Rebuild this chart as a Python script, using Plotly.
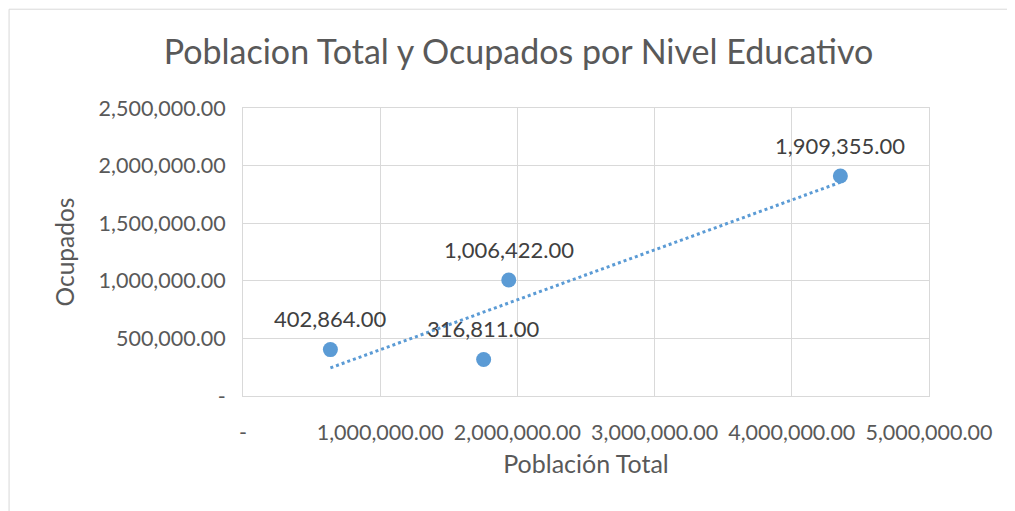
import numpy as np
import plotly.graph_objects as go

# datos
poblacion_total = [637000, 1754000, 1937000, 4354000]
ocupados = [402864, 316811, 1006422, 1909355]
etiquetas = ["402,864.00", "316,811.00", "1,006,422.00", "1,909,355.00"]

x_ticks = [0, 1000000, 2000000, 3000000, 4000000, 5000000]
x_ticktext = ["-", "1,000,000.00", "2,000,000.00", "3,000,000.00", "4,000,000.00", "5,000,000.00"]
y_ticks = [0, 500000, 1000000, 1500000, 2000000, 2500000]
y_ticktext = ["-", "500,000.00", "1,000,000.00", "1,500,000.00", "2,000,000.00", "2,500,000.00"]

AZUL = "#5b9bd5"
GRIS_TXT = "#595959"
GRIS_LIN = "#d9d9d9"
FUENTE = "Lato"

# linea de tendencia lineal (como en Excel)
pend, inter = np.polyfit(poblacion_total, ocupados, 1)
xt = np.array([min(poblacion_total), max(poblacion_total)])
yt = pend * xt + inter

fig = go.Figure()
fig.add_trace(
    go.Scatter(
        x=xt.tolist(),
        y=yt.tolist(),
        mode="lines",
        line=dict(color=AZUL, width=3, dash="dot"),
        hoverinfo="skip",
        showlegend=False,
    )
)
fig.add_trace(
    go.Scatter(
        x=poblacion_total,
        y=ocupados,
        mode="markers",
        marker=dict(color=AZUL, size=15),
        showlegend=False,
    )
)
for xv, yv, txt in zip(poblacion_total, ocupados, etiquetas):
    fig.add_annotation(
        x=xv, y=yv, text=txt, showarrow=False, yshift=31,
        font=dict(family=FUENTE, size=22, color="#404040"),
    )

# borde del area del grafico
fig.add_shape(
    type="rect", xref="paper", yref="paper",
    x0=-0.341, y0=-0.6, x1=1.3, y1=1.343,
    line=dict(color=GRIS_LIN, width=1), fillcolor="rgba(0,0,0,0)", layer="below",
)

fig.update_xaxes(
    range=[0, 5000000],
    tickvals=x_ticks, ticktext=x_ticktext,
    showgrid=True, gridcolor=GRIS_LIN, gridwidth=1,
    showline=True, linecolor=GRIS_LIN, mirror=True,
    ticks="outside", ticklen=17, tickcolor="rgba(0,0,0,0)",
    zeroline=False,
    tickfont=dict(family=FUENTE, size=21.5, color=GRIS_TXT),
    title=dict(text="Población Total", standoff=11,
               font=dict(family=FUENTE, size=25, color=GRIS_TXT)),
)
fig.update_yaxes(
    range=[0, 2500000],
    tickvals=y_ticks, ticktext=y_ticktext,
    showgrid=True, gridcolor=GRIS_LIN, gridwidth=1,
    showline=True, linecolor=GRIS_LIN, mirror=True,
    ticks="outside", ticklen=12, tickcolor="rgba(0,0,0,0)",
    zeroline=False,
    tickfont=dict(family=FUENTE, size=21.5, color=GRIS_TXT),
    title=dict(text="Ocupados", standoff=17,
               font=dict(family=FUENTE, size=24.5, color=GRIS_TXT)),
)
fig.update_layout(
    width=1015, height=511,
    margin=dict(l=235, r=94, t=100, b=123),
    paper_bgcolor="white", plot_bgcolor="white",
    title=dict(
        text="Poblacion Total y Ocupados por Nivel Educativo",
        x=0.503, xref="container", xanchor="center",
        y=0.914, yref="container", yanchor="middle",
        font=dict(family=FUENTE, size=34, color=GRIS_TXT),
    ),
    font=dict(family=FUENTE, color=GRIS_TXT),
)
fig.write_html("out.html")
